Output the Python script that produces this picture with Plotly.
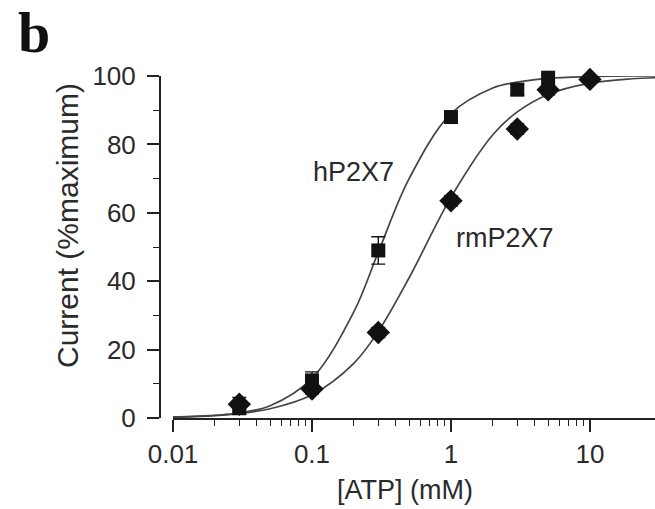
import math
import plotly.graph_objects as go

# --- data ---
atp_h = [0.03, 0.1, 0.3, 1, 3, 5]
cur_h = [3, 11, 49, 88, 96, 99.5]
err_h = [2, 2.5, 4, 1.5, 1.5, 2.5]

atp_m = [0.03, 0.1, 0.3, 1, 3, 5, 10]
cur_m = [4, 8.5, 25, 63.5, 84.5, 96, 99]
err_m = [2, 1.5, 1.5, 1.5, 1.5, 1.5, 1]

fit_x = [0.01, 0.02, 0.03, 0.05, 0.1, 0.2, 0.3, 0.5, 1, 2, 3, 5, 10, 20, 30]
fit_h = [0.2, 0.7, 1.5, 3.6, 11.6, 31, 48.5, 70, 89, 96.5, 98.2, 99.3, 99.8, 100, 100]
fit_m = [0.3, 0.8, 1.3, 2.7, 6.8, 16, 25.3, 41, 64.5, 82.8, 89.5, 94.6, 97.9, 99.2, 99.5]

x_major = [0.01, 0.1, 1, 10]
x_major_text = ["0.01", "0.1", "1", "10"]
x_minor = [0.02, 0.03, 0.04, 0.05, 0.06, 0.07, 0.08, 0.09,
           0.2, 0.3, 0.4, 0.5, 0.6, 0.7, 0.8, 0.9,
           2, 3, 4, 5, 6, 7, 8, 9]
y_major = [0, 20, 40, 60, 80, 100]

label_h = ("hP2X7", 0.2, 72)
label_m = ("rmP2X7", 2.45, 52.5)

FONT = "Liberation Sans, Arial, sans-serif"
TXT = "#2a2a2a"
AX = "#222"

W, H = 655, 509
ML, MR, MT, MB = 160, 0, 76, 91
plot_w = W - ML - MR
plot_h = H - MT - MB


def px(xp):
    return (xp - ML) / plot_w


def py(yp):
    return (H - MB - yp) / plot_h


fig = go.Figure()

for ys in (fit_h, fit_m):
    fig.add_trace(go.Scatter(x=fit_x, y=ys, mode="lines",
                             line=dict(color="#444", width=1.7, shape="spline"),
                             showlegend=False, hoverinfo="skip", cliponaxis=True))

fig.add_trace(go.Scatter(x=atp_m, y=cur_m, mode="markers",
                         marker=dict(symbol="diamond", size=18, color="#111"),
                         error_y=dict(type="data", array=err_m, color="#111", thickness=1.4, width=7),
                         showlegend=False, cliponaxis=False))
fig.add_trace(go.Scatter(x=atp_h, y=cur_h, mode="markers",
                         marker=dict(symbol="square", size=14, color="#111"),
                         error_y=dict(type="data", array=err_h, color="#111", thickness=1.4, width=7),
                         showlegend=False, cliponaxis=False))

fig.update_layout(
    width=W, height=H,
    margin=dict(l=ML, r=MR, t=MT, b=MB),
    paper_bgcolor="white", plot_bgcolor="white",
    font=dict(family=FONT, color=TXT, size=26),
    xaxis=dict(type="log", range=[-2, 1.468], domain=[13 / plot_w, 1],
               tickmode="array", tickvals=x_major, ticktext=x_major_text,
               ticks="outside", ticklen=12, tickwidth=1.6, tickcolor=AX,
               ticklabelstandoff=0,
               showline=True, linecolor=AX, linewidth=2, showgrid=False, zeroline=False,
               tickfont=dict(size=26, color=TXT, family=FONT),
               minor=dict(tickmode="array", tickvals=x_minor, ticks="outside", ticklen=6,
                          tickwidth=1.4, tickcolor=AX, showgrid=False)),
    yaxis=dict(range=[0, 100], anchor="free", position=0,
               tickmode="array", tickvals=y_major,
               ticks="outside", ticklen=12, tickwidth=1.6, tickcolor=AX,
               ticklabelstandoff=6,
               showline=True, linecolor=AX, linewidth=2, showgrid=False, zeroline=False,
               tickfont=dict(size=26, color=TXT, family=FONT),
               minor=dict(dtick=10, ticks="outside", ticklen=6, tickwidth=1.4, tickcolor=AX,
                          showgrid=False)),
    annotations=[
        dict(text="<b>b</b>", x=px(34), y=py(33), xref="paper", yref="paper", showarrow=False,
             font=dict(family="Liberation Serif, Times New Roman, serif", size=58, color="#111"),
             xanchor="center", yanchor="middle"),
        dict(text=label_h[0], x=math.log10(label_h[1]), y=label_h[2], xref="x", yref="y",
             showarrow=False, font=dict(size=27, color=TXT, family=FONT)),
        dict(text=label_m[0], x=math.log10(label_m[1]), y=label_m[2], xref="x", yref="y",
             showarrow=False, font=dict(size=27, color=TXT, family=FONT)),
        dict(text="[ATP] (mM)", x=px(405), y=py(490), xref="paper", yref="paper", showarrow=False,
             font=dict(size=27, color=TXT, family=FONT), xanchor="center", yanchor="middle"),
        dict(text="Current (%maximum)", x=px(67), y=py(226), xref="paper", yref="paper",
             showarrow=False, textangle=-90, font=dict(size=30, color=TXT, family=FONT),
             xanchor="center", yanchor="middle"),
    ],
)

fig.write_html("out.html", config={"displayModeBar": False},
               post_script="document.body.style.margin='0';document.body.style.overflow='hidden';")
